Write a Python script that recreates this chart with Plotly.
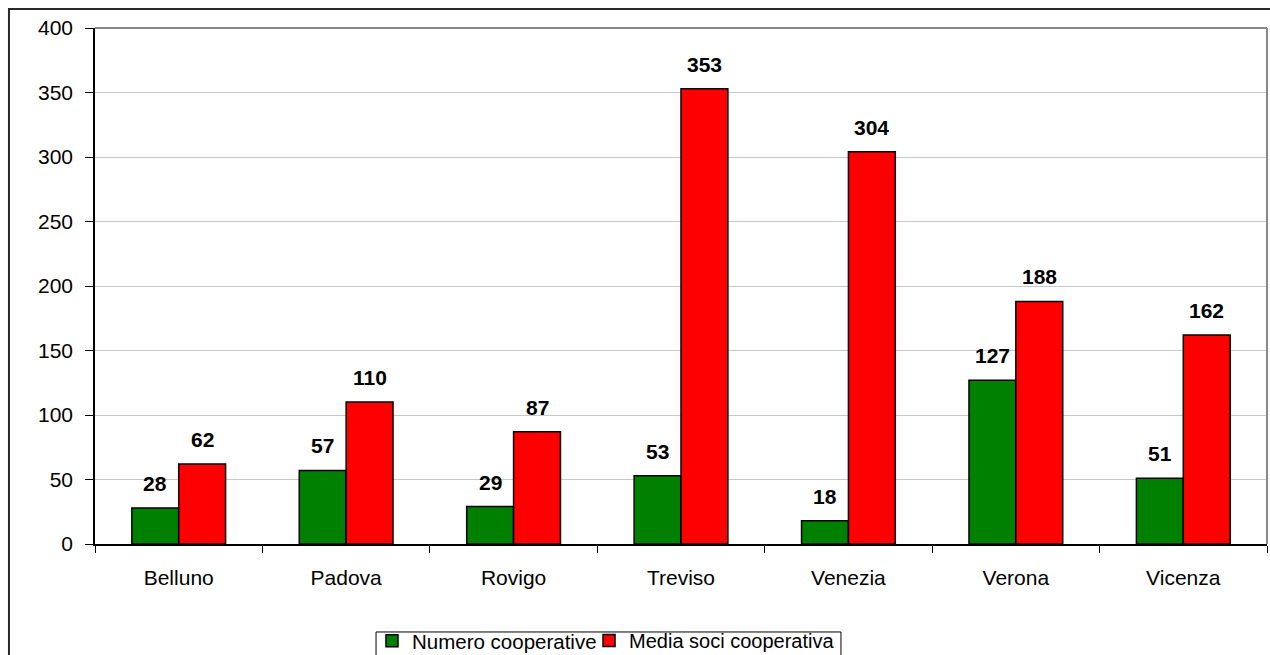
import plotly.graph_objects as go

# Province e valori
province = ["Belluno", "Padova", "Rovigo", "Treviso", "Venezia", "Verona", "Vicenza"]
numero_cooperative = [28, 57, 29, 53, 18, 127, 51]
media_soci = [62, 110, 87, 353, 304, 188, 162]
y_ticks = [0, 50, 100, 150, 200, 250, 300, 350, 400]

FONT = "Liberation Sans, Arial, sans-serif"
FS = 21

fig = go.Figure()
fig.add_trace(go.Bar(
    x=province, y=numero_cooperative, name="Numero cooperative",
    marker=dict(color="#008000", line=dict(color="#000000", width=1.5)),
    legend="legend",
))
fig.add_trace(go.Bar(
    x=province, y=media_soci, name="Media soci cooperativa",
    marker=dict(color="#ff0000", line=dict(color="#000000", width=1.5)),
    legend="legend2",
))

# Etichette dei valori sopra le barre
annotations = []
for i, p in enumerate(province):
    for v, off in ((numero_cooperative[i], -0.5), (media_soci[i], 0.5)):
        annotations.append(dict(
            x=p, y=v, xref="x", yref="y", text=f"<b>{v}</b>",
            showarrow=False, yanchor="bottom", yshift=11,
            xshift=off * 47,
            font=dict(family=FONT, size=FS, color="#000000"),
        ))

legend_common = dict(
    orientation="h", xanchor="left",
    xref="container", yref="container", y=0.0519, yanchor="top",
    borderwidth=0, bgcolor="rgba(0,0,0,0)",
    itemwidth=30, tracegroupgap=0,
)

fig.update_layout(
    width=1270, height=655,
    margin=dict(l=95, r=3, t=28, b=111),
    paper_bgcolor="#ffffff", plot_bgcolor="#ffffff",
    barmode="group", bargap=0.44, bargroupgap=0,
    font=dict(family=FONT, size=FS, color="#000000"),
    annotations=annotations,
    showlegend=True,
    legend=dict(legend_common, x=0.2929,
                font=dict(family=FONT, size=20.5, color="#000000")),
    legend2=dict(legend_common, x=0.4638,
                 font=dict(family=FONT, size=20, color="#000000")),
    shapes=[
        # cornice esterna
        dict(type="rect", xref="paper", yref="paper",
             x0=-0.0734, x1=1.05, y0=-0.4, y1=1.0368,
             line=dict(color="#2a2a2a", width=2), layer="below"),
        # riquadro della legenda
        dict(type="rect", xref="paper", yref="paper",
             x0=0.2398, x1=0.6365, y0=-0.3, y1=-0.1705,
             line=dict(color="#000000", width=1), fillcolor="#ffffff",
             layer="below"),
        # bordo dell'area del grafico (alto e destra)
        dict(type="line", xref="paper", yref="paper", x0=0, x1=1, y0=1, y1=1,
             line=dict(color="#888888", width=2)),
        dict(type="line", xref="paper", yref="paper", x0=1, x1=1, y0=0, y1=1,
             line=dict(color="#888888", width=2)),
    ],
)

fig.update_xaxes(
    type="category", tickson="boundaries",
    ticks="outside", ticklen=7, tickcolor="#000000", tickwidth=1,
    showline=True, linecolor="#000000", linewidth=1.5,
    showgrid=False, ticklabelstandoff=14,
    tickfont=dict(family=FONT, size=FS, color="#000000"),
)
fig.update_yaxes(
    range=[0, 400], tickvals=y_ticks,
    ticks="outside", ticklen=8, tickcolor="#000000", tickwidth=1,
    showline=True, linecolor="#000000", linewidth=1.5,
    showgrid=True, gridcolor="#c8c8c8", gridwidth=1,
    zeroline=False, ticklabelstandoff=8,
    tickfont=dict(family=FONT, size=FS, color="#000000"),
)

fig.write_html("out.html")
